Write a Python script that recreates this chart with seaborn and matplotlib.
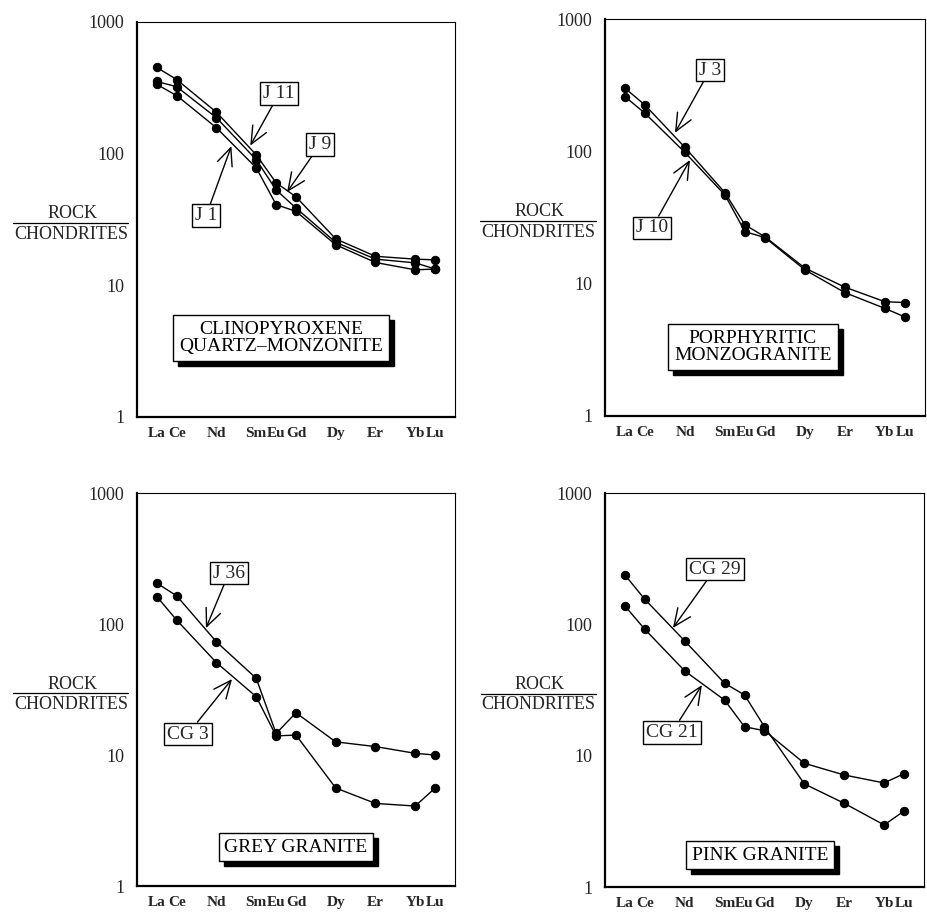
import numpy as np
import pandas as pd
import matplotlib
matplotlib.use("Agg")
import matplotlib.pyplot as plt
from matplotlib.patches import Rectangle
import seaborn as sns

# REE elements en nombre atomique (Pr, Pm, Tb, Ho, Tm non analyses)
elements = ["La", "Ce", "Nd", "Sm", "Eu", "Gd", "Dy", "Er", "Yb", "Lu"]
atomic_no = [57, 58, 60, 62, 63, 64, 66, 68, 70, 71]

# normalisation chondrites
j11 = [451, 365, 206, 98, 60, 47, 22.5, 16.6, 15.8, 15.6]
j9 = [353, 322, 187, 90, 53, 38.6, 21.2, 15.8, 14.8, 13.3]
j1 = [335, 276, 157, 78, 41, 36.4, 20.3, 14.9, 13.1, 13.3]

j3 = [300, 224, 107, 48.7, 27.8, 22.6, 13.1, 9.4, 7.3, 7.2]
j10 = [259, 194, 98, 46.8, 24.7, 22.3, 12.7, 8.55, 6.5, 5.6]

j36 = [205, 164, 73, 38.5, 14.6, 21, 12.6, 11.6, 10.3, 10.0]
cg3 = [162, 107, 50.7, 27.9, 14.0, 14.2, 5.6, 4.27, 4.08, 5.6]

cg29 = [238, 155, 74.8, 35.6, 29, 16.6, 6.1, 4.34, 2.97, 3.79]
cg21 = [138, 91.7, 44.2, 26.5, 16.6, 15.5, 8.75, 7.13, 6.2, 7.3]

SERIF = "Liberation Serif"


def make_df(series):
    rows = []
    for name, vals in series.items():
        for z, v in zip(atomic_no, vals):
            rows.append({"sample": name, "Z": z, "value": v})
    return pd.DataFrame(rows)


def boxed(ax, text, xy_frac, fs=14):
    t = ax.text(xy_frac[0], xy_frac[1], text, transform=ax.transAxes, ha="center", va="center",
                fontsize=fs, family=SERIF, color="black", linespacing=1.05,
                bbox=dict(boxstyle="square,pad=0.3", fc="white", ec="black", lw=1), zorder=6)
    return t


def add_shadow(ax, t, dx=5, dy=5):
    # ombre noire sous la boite, decalee vers le bas a droite
    bb = t.get_bbox_patch().get_window_extent()
    inv = ax.transAxes.inverted()
    (x0, y0), (x1, y1) = inv.transform([(bb.x0 + dx, bb.y0 - dy), (bb.x1 + dx, bb.y1 - dy)])
    ax.add_patch(Rectangle((x0, y0), x1 - x0, y1 - y0, transform=ax.transAxes,
                           fc="black", ec="black", zorder=5, clip_on=False))


def label_arrow(ax, text, xy, xytext):
    ax.annotate(text, xy=xy, xycoords="data", xytext=xytext, textcoords="axes fraction",
                ha="center", va="center", fontsize=14, family=SERIF,
                bbox=dict(boxstyle="square,pad=0.15", fc="white", ec="black", lw=1),
                arrowprops=dict(arrowstyle="->,head_length=0.9,head_width=0.4", color="black",
                                lw=1, shrinkA=0, shrinkB=0), zorder=6)


def style_axes(ax):
    ax.set_yscale("log")
    ax.set_ylim(1, 1000)
    ax.set_xlim(56, 72)
    ax.set_yticks([1, 10, 100, 1000])
    ax.set_yticklabels(["1", "10", "100", "1000"], family=SERIF, fontsize=13)
    ax.yaxis.set_minor_locator(matplotlib.ticker.NullLocator())
    ax.tick_params(axis="y", direction="out", length=5, width=1, pad=4)
    xt = list(range(57, 72))
    ax.set_xticks(xt)
    ax.set_xticklabels([elements[atomic_no.index(z)] if z in atomic_no else "" for z in xt],
                       family=SERIF, fontsize=11, fontweight="bold")
    ax.tick_params(axis="x", direction="in", length=5, width=1, pad=7)
    ax.set_xlabel("")
    ax.set_ylabel("")
    for s in ["left", "bottom"]:
        ax.spines[s].set_linewidth(1.6)
    for s in ["top", "right"]:
        ax.spines[s].set_linewidth(0.8)
    for s in ax.spines.values():
        s.set_color("black")
    # ROCK / CHONDRITES
    ax.text(-0.204, 0.514, "ROCK", transform=ax.transAxes, ha="center", va="center",
            family=SERIF, fontsize=13)
    ax.text(-0.208, 0.463, "CHONDRITES", transform=ax.transAxes, ha="center", va="center",
            family=SERIF, fontsize=13)
    ax.plot([-0.39, -0.027], [0.491, 0.491], transform=ax.transAxes, color="black",
            lw=0.9, clip_on=False)


sns.set_style("white")
fig = plt.figure(figsize=(9.28, 9.14), dpi=100)

panels = [
    ([0.1476, 0.5438, 0.3427, 0.4322], {"J 11": j11, "J 9": j9, "J 1": j1}),
    ([0.6519, 0.5449, 0.3448, 0.4343], {"J 3": j3, "J 10": j10}),
    ([0.1476, 0.0306, 0.3427, 0.4300], {"J 36": j36, "CG 3": cg3}),
    ([0.6519, 0.0295, 0.3438, 0.4311], {"CG 29": cg29, "CG 21": cg21}),
]

axes = []
for rect, series in panels:
    ax = fig.add_axes(rect)
    df = make_df(series)
    sns.lineplot(data=df, x="Z", y="value", hue="sample", palette=["black"] * len(series),
                 estimator=None, sort=False, marker="o", markersize=6, markeredgecolor="black",
                 linewidth=1, legend=False, ax=ax)
    style_axes(ax)
    axes.append(ax)

ax1, ax2, ax3, ax4 = axes

label_arrow(ax1, "J 11", (61.7, 115), (0.4465, 0.818))
label_arrow(ax1, "J 9", (63.55, 51), (0.575, 0.689))
label_arrow(ax1, "J 1", (60.75, 114), (0.217, 0.509))
label_arrow(ax2, "J 3", (59.5, 138), (0.328, 0.8715))
label_arrow(ax2, "J 10", (60.25, 86), (0.147, 0.4736))
label_arrow(ax3, "J 36", (59.47, 93), (0.289, 0.7964))
label_arrow(ax3, "CG 3", (60.78, 38), (0.16, 0.3868))
label_arrow(ax4, "CG 29", (59.41, 94), (0.345, 0.807))
label_arrow(ax4, "CG 21", (60.86, 34.5), (0.21, 0.393))

titles = [
    (ax1, boxed(ax1, "CLINOPYROXENE\nQUARTZ\u2013MONZONITE", (0.453, 0.2))),
    (ax2, boxed(ax2, "PORPHYRITIC\nMONZOGRANITE", (0.4625, 0.174))),
    (ax3, boxed(ax3, "GREY GRANITE", (0.5, 0.0992))),
    (ax4, boxed(ax4, "PINK GRANITE", (0.486, 0.081))),
]

fig.canvas.draw()
for ax, t in titles:
    add_shadow(ax, t)

fig.savefig("out.png", dpi=100)
